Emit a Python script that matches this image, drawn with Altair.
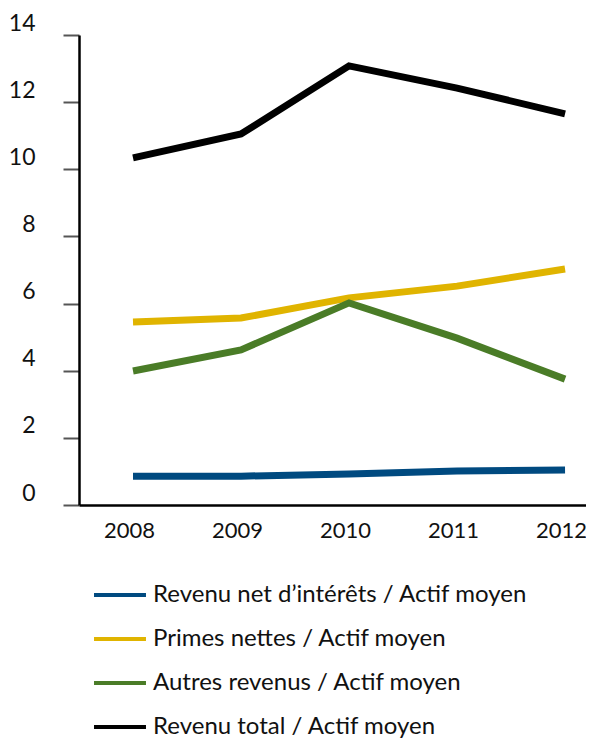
import altair as alt
import pandas as pd

years = [2008, 2009, 2010, 2011, 2012]
series_names = [
    "Revenu net d\u2019intérêts / Actif moyen",
    "Primes nettes / Actif moyen",
    "Autres revenus / Actif moyen",
    "Revenu total / Actif moyen",
]
revenu_net = [0.86, 0.86, 0.92, 1.01, 1.04]
primes = [5.45, 5.57, 6.17, 6.52, 7.03]
autres = [3.99, 4.62, 6.02, 4.97, 3.75]
total = [10.34, 11.05, 13.08, 12.42, 11.65]
colors = ["#004A80", "#E0B400", "#4A7C27", "#000000"]
y_ticks = [0, 2, 4, 6, 8, 10, 12, 14]

rows = []
for name, vals in zip(series_names, [revenu_net, primes, autres, total]):
    for yr, v in zip(years, vals):
        rows.append({"year": yr, "value": v, "series": name})
df = pd.DataFrame(rows)

FONT = "Lato"

chart = alt.Chart(df).mark_line(strokeWidth=7, strokeCap="butt", strokeJoin="miter").encode(
    x=alt.X("year:Q",
            scale=alt.Scale(domain=[2007.5, 2012.194], nice=False, zero=False),
            axis=alt.Axis(values=years, format="d", title=None, grid=False, ticks=False,
                          domainColor="#000", domainWidth=2.5, labelFontSize=22,
                          labelFont=FONT, labelColor="#111", labelPadding=15,
                          labelOffset=-4, labelFlush=False)),
    y=alt.Y("value:Q",
            scale=alt.Scale(domain=[0, 14], nice=False),
            axis=alt.Axis(values=y_ticks, title=None, grid=False, tickSize=16, tickWidth=2,
                          tickColor="#555", domainColor="#000", domainWidth=2.5,
                          labelFontSize=23, labelFont=FONT, labelColor="#111",
                          labelPadding=28, labelBaseline="alphabetic", labelOffset=-5)),
    color=alt.Color("series:N",
                    scale=alt.Scale(domain=series_names, range=colors),
                    sort=series_names,
                    legend=alt.Legend(title=None, orient="none", legendX=13, legendY=532,
                                      symbolType="stroke", symbolSize=2700,
                                      symbolStrokeWidth=4, labelFontSize=24, labelFont=FONT,
                                      labelColor="#111", labelLimit=0, rowPadding=4,
                                      labelOffset=5, padding=0, direction="vertical")),
    order=alt.Order("year:Q"),
).properties(
    width=507, height=470,
    autosize=alt.AutoSizeParams(type="none"),
    padding={"left": 71, "top": 27, "right": 0, "bottom": 234},
).configure_view(stroke=None)

chart.save("out.html", embed_options={"renderer": "svg", "actions": False})
